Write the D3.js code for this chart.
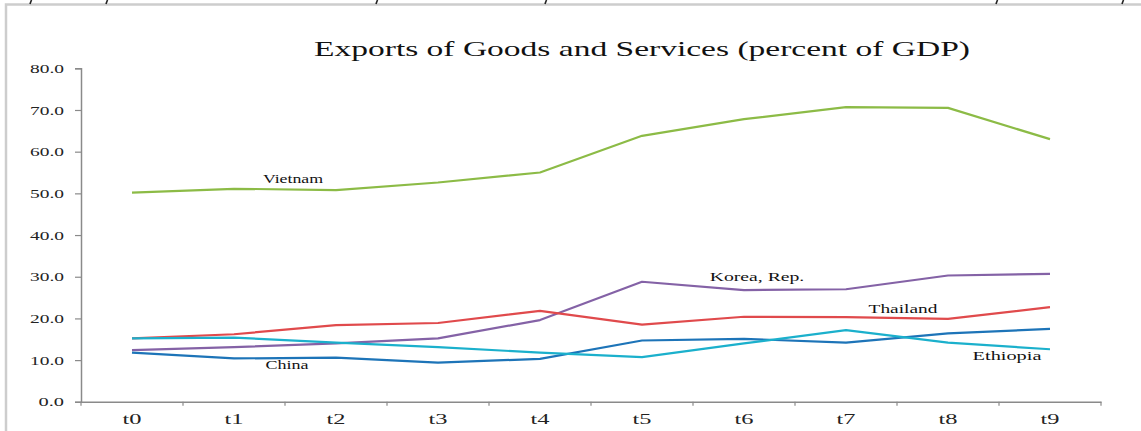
<!DOCTYPE html>
<html>
<head>
<meta charset="utf-8">
<script src="https://cdn.jsdelivr.net/npm/d3@7"></script>
<style>
  body { margin: 0; background: #fff; }
  svg { display: block; }
</style>
</head>
<body>
<svg id="chart" width="1141" height="431"></svg>
<script>
// periods on the x axis
var periods = ["t0", "t1", "t2", "t3", "t4", "t5", "t6", "t7", "t8", "t9"];

// exports, percent of GDP
var vietnam  = [50.2, 51.1, 50.8, 52.6, 55.0, 63.8, 67.8, 70.7, 70.5, 63.0];
var korea    = [12.4, 13.1, 14.0, 15.2, 19.6, 28.8, 26.8, 27.0, 30.3, 30.7];
var thailand = [15.2, 16.2, 18.4, 18.9, 21.8, 18.5, 20.4, 20.3, 19.9, 22.7];
var china    = [11.8, 10.4, 10.6, 9.4, 10.3, 14.7, 15.1, 14.2, 16.4, 17.5];
var ethiopia = [15.2, 15.4, 14.2, 13.1, 11.8, 10.7, 14.0, 17.2, 14.2, 12.6];

var yTicks = [0, 10, 20, 30, 40, 50, 60, 70, 80];

var series = [
  { name: "Vietnam",     values: vietnam,  color: "#8cbb46", label: { x: 293, y: 183 } },
  { name: "Korea, Rep.", values: korea,    color: "#8462a6", label: { x: 757, y: 281 } },
  { name: "Thailand",    values: thailand, color: "#e04a4c", label: { x: 903, y: 313 } },
  { name: "China",       values: china,    color: "#1d74b8", label: { x: 287, y: 369 } },
  { name: "Ethiopia",    values: ethiopia, color: "#1bb0cc", label: { x: 1007, y: 360 } }
];

var svg = d3.select("#chart");
var serif = "'Liberation Serif', 'Times New Roman', serif";

// page frame
svg.append("path")
  .attr("d", "M6,431 V4.5 H1141")
  .attr("fill", "none")
  .attr("stroke", "#cdcdcd")
  .attr("stroke-width", 2.5);

// descender stubs of the text line above the frame (only their tails show)
[30, 106, 376, 545, 996, 1122].forEach(function(px) {
  svg.append("line")
    .attr("x1", px + 1.5).attr("y1", 0)
    .attr("x2", px).attr("y2", 4)
    .attr("stroke", "#222")
    .attr("stroke-width", 1.6);
});

// scales
var x = d3.scaleBand().domain(periods).range([81, 1101]);
var y = d3.scaleLinear().domain([0, 80]).range([401.8, 68.3]);

// title
svg.append("text")
  .attr("x", 642).attr("y", 56)
  .attr("text-anchor", "middle")
  .attr("font-family", serif)
  .attr("font-size", 22)
  .attr("fill", "#111")
  .attr("textLength", 656)
  .attr("lengthAdjust", "spacingAndGlyphs")
  .text("Exports of Goods and Services (percent of GDP)");

// y axis
var fmt = d3.format(".1f");
var yAxis = svg.append("g")
  .attr("transform", "translate(81,0)")
  .call(d3.axisLeft(y).tickValues(yTicks).tickSize(6).tickPadding(11).tickFormat(fmt));
yAxis.select(".domain").attr("stroke", "#8a8a8a").attr("stroke-width", 1.5);
yAxis.selectAll(".tick line").attr("stroke", "#8a8a8a").attr("stroke-width", 1.2);
yAxis.selectAll(".tick text")
  .attr("font-family", serif)
  .attr("font-size", 13)
  .attr("fill", "#222")
  .attr("textLength", function(d) { return fmt(d).length * 8.5; })
  .attr("lengthAdjust", "spacingAndGlyphs");

// x axis, ticks sit between periods
var xAxis = svg.append("g")
  .attr("transform", "translate(0," + y(0) + ")")
  .call(d3.axisBottom(x).tickSize(0).tickPadding(12));
xAxis.select(".domain").attr("stroke", "#8a8a8a").attr("stroke-width", 1.5);
xAxis.selectAll(".tick text")
  .attr("font-family", serif)
  .attr("font-size", 14)
  .attr("fill", "#222")
  .attr("textLength", 19)
  .attr("lengthAdjust", "spacingAndGlyphs");

var bounds = periods.map(function(p) { return x(p); }).concat([x.range()[1]]);
xAxis.selectAll(".sep")
  .data(bounds)
  .enter().append("line")
  .attr("x1", function(d) { return d; })
  .attr("x2", function(d) { return d; })
  .attr("y1", 0).attr("y2", 4)
  .attr("stroke", "#8a8a8a")
  .attr("stroke-width", 1.2);

// lines
var line = d3.line()
  .x(function(d, i) { return x(periods[i]) + x.bandwidth() / 2; })
  .y(function(d) { return y(d); });

series.forEach(function(s) {
  svg.append("path")
    .datum(s.values)
    .attr("fill", "none")
    .attr("stroke", s.color)
    .attr("stroke-width", 2.2)
    .attr("stroke-linejoin", "round")
    .attr("d", line);
});

// series labels
series.forEach(function(s) {
  svg.append("text")
    .attr("x", s.label.x).attr("y", s.label.y)
    .attr("text-anchor", "middle")
    .attr("font-family", serif)
    .attr("font-size", 13)
    .attr("fill", "#111")
    .attr("textLength", s.name.length * 8.6)
    .attr("lengthAdjust", "spacingAndGlyphs")
    .text(s.name);
});
</script>
</body>
</html>
